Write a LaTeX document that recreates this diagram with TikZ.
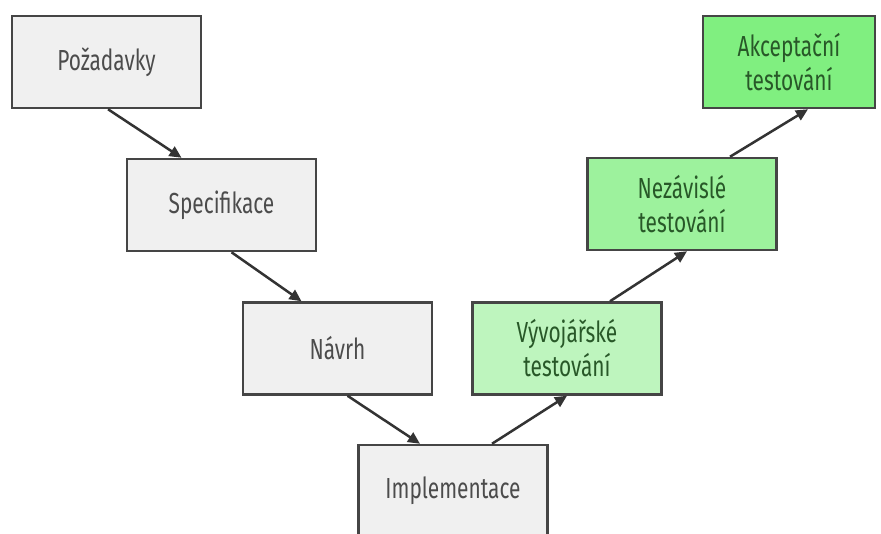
\documentclass[tikz,border=0pt]{standalone}
\usepackage{fontspec}
\setmainfont{Fira Sans}[FakeStretch=0.72]
\usetikzlibrary{arrows.meta}
\definecolor{boxgrey}{HTML}{F0F0F0}
\definecolor{edge}{HTML}{454545}
\definecolor{greytext}{HTML}{4C4C4C}
\definecolor{greentext}{HTML}{285828}
\definecolor{greenA}{HTML}{BEF5BE}
\definecolor{greenB}{HTML}{9DF29D}
\definecolor{greenC}{HTML}{80EF80}
\definecolor{arrowc}{HTML}{333333}
\tikzset{
  stagebox/.style={draw=edge, line width=2.5pt, minimum width=189pt, minimum height=92pt,
    inner sep=0pt, align=center, font=\fontsize{29}{34}\selectfont},
  planbox/.style={stagebox, fill=boxgrey, text=greytext},
  testbox/.style={stagebox, text=greentext},
  flow/.style={draw=arrowc, line width=2.5pt, -{Triangle[length=12pt,width=11pt]}}
}
\begin{document}
\begin{tikzpicture}[x=1pt,y=-1pt]
\useasboundingbox (0,0) rectangle (881,533);
\clip (0,0) rectangle (881,533);
\fill[white] (0,0) rectangle (881,533);
\node[planbox] (A) at (106.5,62) {Požadavky};
\node[planbox] (B) at (221.5,205) {Specifikace};
\node[planbox] (C) at (337.5,348.5) {Návrh};
\node[planbox] (D) at (453,491) {Implementace};
\node[testbox, fill=greenA] (E) at (567,348.5) {Vývojářské\\testování};
\node[testbox, fill=greenB] (F) at (682,204) {Nezávislé\\testování};
\node[testbox, fill=greenC, minimum width=172pt] (G) at (789,62) {Akceptační\\testování};
\draw[flow] ([xshift=1.5pt]A.south) -- ([xshift=-40pt]B.north);
\draw[flow] ([xshift=10pt]B.south) -- ([xshift=-36pt]C.north);
\draw[flow] ([xshift=10pt]C.south) -- ([xshift=-33pt]D.north);
\draw[flow] ([xshift=39pt]D.north) -- ([xshift=0pt]E.south);
\draw[flow] ([xshift=43pt]E.north) -- ([xshift=5pt]F.south);
\draw[flow] ([xshift=48pt]F.north) -- ([xshift=19pt]G.south);
\end{tikzpicture}
\end{document}
